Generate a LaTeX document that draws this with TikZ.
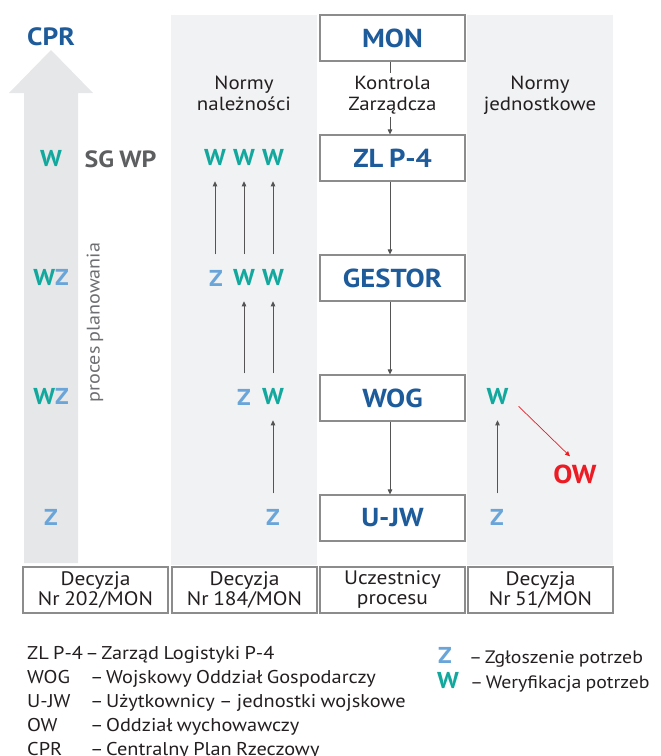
\documentclass[tikz,border=0pt]{standalone}
\usepackage{fontspec}
\setmainfont{PT Sans}[FakeStretch=1.1,WordSpace=0.8]
\usetikzlibrary{arrows.meta}
\definecolor{dblue}{HTML}{1E5B9A}
\definecolor{wteal}{HTML}{12A89D}
\definecolor{zblue}{HTML}{6AA5DA}
\definecolor{owred}{HTML}{EC1C24}
\definecolor{panelgray}{HTML}{F1F2F4}
\definecolor{arrowgray}{HTML}{E6E7E9}
\definecolor{boxgray}{HTML}{8C8C8C}
\definecolor{txt}{HTML}{231F20}
\definecolor{sggray}{HTML}{5D5E60}
\definecolor{procgray}{HTML}{6D6E71}
\definecolor{linegray}{HTML}{555555}
\newcommand\legdash{–\hspace{2.5pt}}
\begin{document}
\begin{tikzpicture}[x=1pt,y=-1pt,
  panel/.style={fill=panelgray,draw=none},
  pbox/.style={draw=boxgray,line width=1.1pt,fill=white,minimum width=145pt,minimum height=46pt,inner sep=0pt,
    font=\bfseries\fontsize{26}{26}\selectfont,text=dblue},
  dbox/.style={draw=boxgray,line width=1.1pt,fill=white,minimum width=145pt,minimum height=46pt,inner sep=0pt,
    align=center,font=\fontsize{19.5}{20}\selectfont,text=txt},
  head/.style={align=center,font=\fontsize{19}{21}\selectfont,text=txt,inner sep=3pt},
  lettr/.style={inner sep=0pt,font=\bfseries\fontsize{23}{23}\selectfont},
  wl/.style={lettr,text=wteal},
  zl/.style={lettr,text=zblue},
  arr/.style={draw=linegray,line width=0.9pt,-{Triangle[length=5pt,width=4.5pt]},color=linegray},
  uparr/.style={arr,shorten <=15.5pt,shorten >=15pt},
  leg/.style={anchor=base west,inner sep=0pt,font=\fontsize{18.5}{24}\selectfont,text=txt},
  legr/.style={leg,font=\fontsize{18}{24}\selectfont}
]
\useasboundingbox (0,0) rectangle (661,756);

% panels
\fill[panelgray] (171,15) rectangle (317,565);
\fill[panelgray] (467,15) rectangle (613,565);
% big arrow
\fill[arrowgray] (24,563) -- (24,93) -- (9,93) -- (51,50) -- (93,93) -- (78,93) -- (78,563) -- cycle;

% left column
\node[lettr,text=dblue,font=\bfseries\fontsize{25}{25}\selectfont] (cpr) at (51,37) {CPR};
\node[wl] (lw1) at (51,159) {W};
\node[lettr,text=sggray,font=\bfseries\fontsize{23.5}{23.5}\selectfont] (sgwp) at (120.5,159) {SG WP};
\node[lettr] (lw2) at (51,278) {\textcolor{wteal}{W}\textcolor{zblue}{Z}};
\node[lettr] (lw3) at (51,397) {\textcolor{wteal}{W}\textcolor{zblue}{Z}};
\node[zl] (lw4) at (51,517) {Z};
\node[rotate=90,inner sep=0pt,font=\fontsize{18.3}{18.3}\selectfont,text=procgray] (proc) at (95,322.5) {proces planowania};

% panel 2
\node[head,anchor=base] (nn) at (244,110) {Normy\\należności};
\node[wl] (a1) at (215,158) {W};
\node[wl] (b1) at (244,158) {W};
\node[wl] (c1) at (273,158) {W};
\node[zl] (a2) at (216,278) {Z};
\node[wl] (b2) at (244,278) {W};
\node[wl] (c2) at (273,278) {W};
\node[zl] (b3) at (244,397) {Z};
\node[wl] (c3) at (273,397) {W};
\node[zl] (c4) at (273,517) {Z};
\draw[uparr] (a2.north -| a1) -- (a1.south);
\draw[uparr] (b2.north) -- (b1.south);
\draw[uparr] (c2.north) -- (c1.south);
\draw[uparr] (b3.north) -- (b2.south);
\draw[uparr] (c3.north) -- (c2.south);
\draw[uparr] (c4.north) -- (c3.south);

% center column
\node[pbox] (mon) at (392.5,38) {MON};
\node[head,anchor=base] (kz) at (392.5,110) {Kontrola\\Zarządcza};
\node[pbox] (zl) at (392.5,158) {ZL P-4};
\node[pbox] (gestor) at (392.5,278) {GESTOR};
\node[pbox] (wog) at (392.5,398) {WOG};
\node[pbox] (ujw) at (392.5,518) {U-JW};
\coordinate (mx) at ([xshift=-2.5pt]mon.south);
\coordinate (zx) at ([xshift=-2.5pt]zl.north);
\draw[draw=linegray,line width=0.9pt] (mx) -- (kz.north -| mx);
\draw[arr] (kz.south -| zx) -- (zx);
\draw[arr] ([xshift=-2.5pt]zl.south) -- ([xshift=-2.5pt]gestor.north);
\draw[arr] ([xshift=-2.5pt]gestor.south) -- ([xshift=-2.5pt]wog.north);
\draw[arr] ([xshift=-2.5pt]wog.south) -- ([xshift=-2.5pt]ujw.north);

% panel 4
\node[head,anchor=base] (nj) at (540,110) {Normy\\jednostkowe};
\node[wl] (w4) at (497.5,397) {W};
\node[zl] (z4) at (497,517) {Z};
\node[lettr,text=owred,font=\bfseries\fontsize{26}{26}\selectfont] (ow) at (575,474) {OW};
\draw[uparr] (z4.north -| w4) -- (w4.south);
\draw[draw=owred,line width=0.7pt,-{Triangle[length=5pt,width=4.5pt]}] ([shift={(10,1)}]w4.south east) -- ([shift={(-5,-8)}]ow.north);

% bottom boxes
\node[dbox] (d1) at (95.5,590) {Decyzja\\Nr 202/MON};
\node[dbox] (d2) at (244.5,590) {Decyzja\\Nr 184/MON};
\node[dbox] (d3) at (392.5,590) {Uczestnicy\\procesu};
\node[dbox] (d4) at (540.5,590) {Decyzja\\Nr 51/MON};

% legend
\node[leg] (l1) at (27,659) {ZL P-4\hspace{2.5pt}\legdash Zarząd Logistyki P-4};
\node[leg] (l2a) at (27,683) {WOG};
\node[leg] (l2b) at (90,683) {\legdash Wojskowy Oddział Gospodarczy};
\node[leg] (l3a) at (27,707) {U-JW};
\node[leg] (l3b) at (90,707) {\legdash Użytkownicy – jednostki wojskowe};
\node[leg] (l4a) at (27,731) {OW};
\node[leg] (l4b) at (90,731) {\legdash Oddział wychowawczy};
\node[leg] (l5a) at (27,755) {CPR};
\node[leg] (l5b) at (90,755) {\legdash Centralny Plan Rzeczowy};

\node[leg,font=\bfseries\fontsize{23}{23}\selectfont,text=zblue] (lz) at (438,663) {Z};
\node[legr] (lzt) at (469,663) {\legdash Zgłoszenie potrzeb};
\node[leg,font=\bfseries\fontsize{23}{23}\selectfont,text=wteal] (lw) at (437,688) {W};
\node[legr] (lwt) at (470,688) {\legdash Weryfikacja potrzeb};
\end{tikzpicture}
\end{document}
